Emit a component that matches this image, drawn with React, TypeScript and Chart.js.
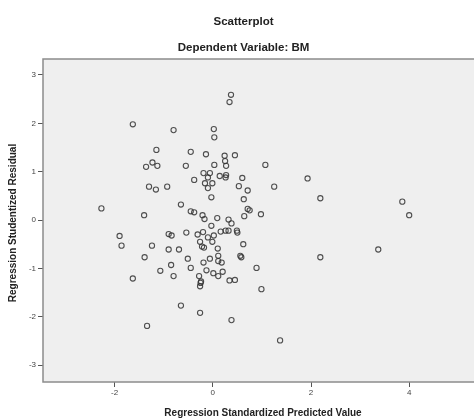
import React, { useEffect, useRef } from "react";
import { Chart, registerables } from "chart.js";

Chart.register(...registerables);

const titleText = "Scatterplot";
const subtitleText = "Dependent Variable: BM";
const xTitle = "Regression Standardized Predicted Value";
const yTitle = "Regression Studentized Residual";

const xTicks = [-2, 0, 2, 4];
const yTicks = [-3, -2, -1, 0, 1, 2, 3];

const predicted = [
  0.37, 0.34, -1.63, -0.8, 0.02, 0.03, -1.15, -0.45, -0.14, 0.24, 0.45, -1.23, -1.36, -1.13, -0.55, 0.03,
  0.25, 0.27, 1.07, -0.19, -0.06, -0.1, 0.14, 0.27, 0.26, 0.6, -0.38, -0.16, -0.01, -0.1, -1.3, -1.16,
  -0.93, 0.53, 0.71, -0.03, 0.63, -2.27, -0.65, 0.71, 0.75, -1.4, -0.45, -0.38, -0.21, -0.17, 0.09, 0.32,
  0.38, 0.64, 0.98, -0.03, -1.9, -0.9, -0.84, -0.54, -0.31, -0.2, -0.1, 0.02, 0.16, 0.26, 0.32, 0.49,
  0.5, -1.86, -0.26, -0.22, -0.18, -0.01, -1.24, 0.62, -0.9, -0.69, 0.1, -1.39, -0.51, -0.06, 0.11, 0.11,
  0.18, -0.19, 0.56, 0.58, -0.85, -0.45, -1.07, -0.13, 0.01, 0.2, 0.11, 0.89, -1.63, -0.8, -0.28, -0.24,
  -0.25, -0.26, 0.34, 0.45, 0.99, -0.65, -0.26, 0.38, -1.34, 1.93, 1.25, 2.19, 3.86, 4.0, 2.19, 3.37, 1.37,
];
const residual = [
  2.59, 2.44, 1.98, 1.86, 1.88, 1.71, 1.45, 1.41, 1.36, 1.33, 1.34, 1.19, 1.1, 1.12, 1.12, 1.14,
  1.22, 1.12, 1.14, 0.97, 0.97, 0.88, 0.91, 0.93, 0.88, 0.87, 0.83, 0.76, 0.76, 0.66, 0.69, 0.63,
  0.69, 0.7, 0.61, 0.47, 0.43, 0.24, 0.32, 0.23, 0.2, 0.1, 0.18, 0.16, 0.1, 0.02, 0.04, 0.01,
  -0.07, 0.08, 0.12, -0.12, -0.33, -0.29, -0.32, -0.26, -0.3, -0.25, -0.36, -0.32, -0.24, -0.22, -0.22, -0.22,
  -0.26, -0.53, -0.45, -0.55, -0.57, -0.45, -0.53, -0.5, -0.61, -0.61, -0.59, -0.77, -0.8, -0.8, -0.74, -0.85,
  -0.88, -0.88, -0.74, -0.77, -0.93, -0.99, -1.05, -1.04, -1.1, -1.07, -1.16, -0.99, -1.21, -1.16, -1.16, -1.27,
  -1.3, -1.37, -1.25, -1.24, -1.43, -1.77, -1.92, -2.07, -2.19, 0.86, 0.69, 0.45, 0.38, 0.1, -0.77, -0.61, -2.49,
];

const FONT = "'Liberation Sans', Arial, sans-serif";

const decor = {
  id: "decor",
  beforeDraw(chart: any) {
    const { ctx, chartArea: a } = chart;
    ctx.save();
    ctx.fillStyle = "#efefef";
    ctx.fillRect(a.left, a.top, a.right - a.left, a.bottom - a.top);
    ctx.restore();
  },
  afterDraw(chart: any) {
    const { ctx, chartArea: a } = chart;
    ctx.save();
    ctx.strokeStyle = "#8c8c8c";
    ctx.lineWidth = 1.5;
    ctx.strokeRect(a.left, a.top, a.right - a.left, a.bottom - a.top);
    ctx.fillStyle = "#222";
    ctx.textAlign = "center";
    ctx.textBaseline = "middle";
    ctx.font = `bold 11.5px ${FONT}`;
    ctx.fillText(titleText, 243.5, 22);
    ctx.fillText(subtitleText, 243.5, 48);
    ctx.font = `bold 10px ${FONT}`;
    ctx.fillText(xTitle, 263, 413);
    ctx.translate(13, 223);
    ctx.rotate(-Math.PI / 2);
    ctx.fillText(yTitle, 0, 0);
    ctx.restore();
  },
};

export default function App() {
  const ref = useRef<HTMLCanvasElement | null>(null);
  useEffect(() => {
    if (!ref.current) return;
    const data = predicted.map((x, i) => ({ x, y: residual[i] }));
    const chart = new Chart(ref.current, {
      type: "scatter",
      data: {
        datasets: [
          {
            data,
            pointRadius: 2.6,
            pointBorderWidth: 1.1,
            pointBorderColor: "rgba(50,50,50,0.85)",
            pointBackgroundColor: "rgba(0,0,0,0)",
            pointHoverRadius: 2.6,
          },
        ],
      },
      options: {
        responsive: false,
        animation: false,
        devicePixelRatio: 1,
        layout: { padding: { top: 59, right: 1, left: 0, bottom: 0 } },
        plugins: { legend: { display: false }, tooltip: { enabled: false }, title: { display: false } },
        scales: {
          x: {
            type: "linear",
            min: -3.46,
            max: 5.51,
            afterBuildTicks: (s: any) => {
              s.ticks = xTicks.map((v) => ({ value: v }));
            },
            afterFit: (s: any) => {
              s.height = 37;
            },
            grid: { drawOnChartArea: false, drawTicks: true, tickLength: 5, color: "#555", lineWidth: 1 },
            border: { display: false },
            ticks: { color: "#444", font: { size: 8, family: FONT }, padding: 1, maxRotation: 0, autoSkip: false },
          },
          y: {
            type: "linear",
            min: -3.35,
            max: 3.33,
            afterBuildTicks: (s: any) => {
              s.ticks = yTicks.map((v) => ({ value: v }));
            },
            afterFit: (s: any) => {
              s.width = 43;
            },
            grid: { drawOnChartArea: false, drawTicks: true, tickLength: 5, color: "#555", lineWidth: 1 },
            border: { display: false },
            ticks: { color: "#444", font: { size: 8, family: FONT }, padding: 2, autoSkip: false },
          },
        },
      },
      plugins: [decor],
    } as any);
    return () => chart.destroy();
  }, []);
  return (
    <div style={{ position: "fixed", left: 0, top: 0, width: 474, height: 419, overflow: "hidden", background: "#fff" }}>
      <canvas ref={ref} width={487} height={419} style={{ display: "block", width: 487, height: 419 }} />
    </div>
  );
}
